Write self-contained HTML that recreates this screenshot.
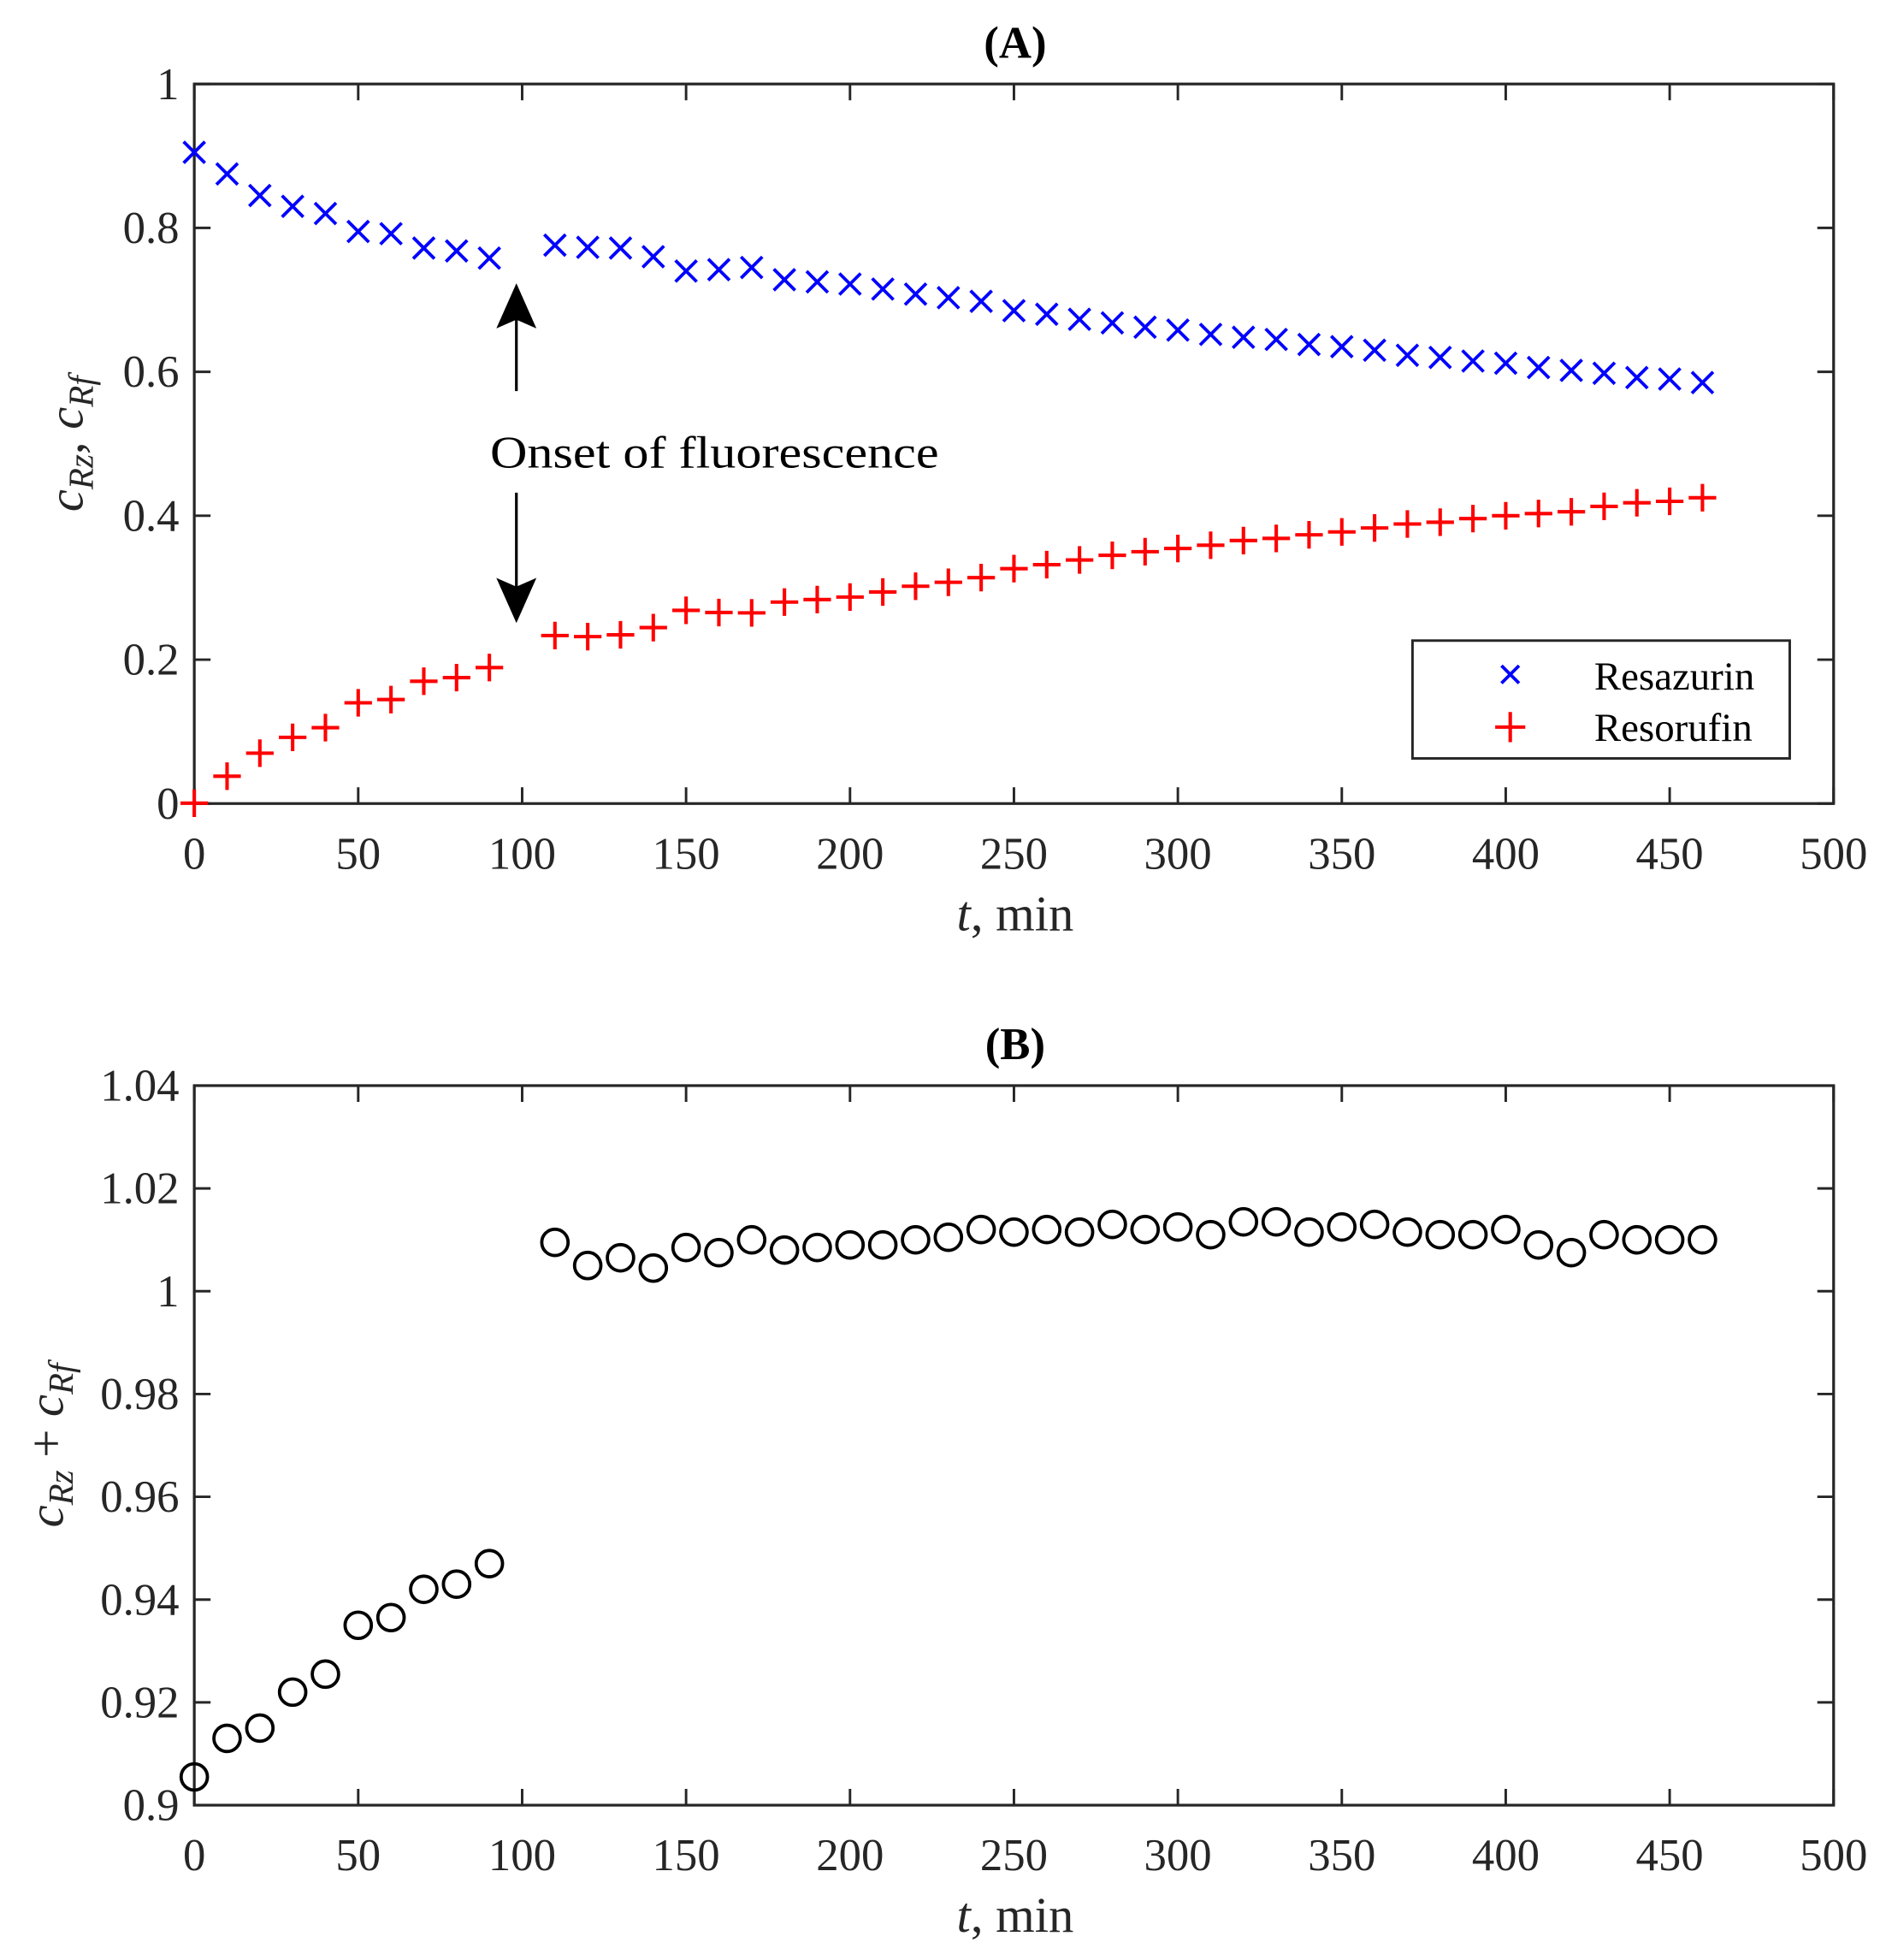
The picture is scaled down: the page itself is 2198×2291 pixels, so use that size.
<!DOCTYPE html>
<html><head><meta charset="utf-8"><style>html,body{margin:0;padding:0;background:#fff}svg{display:block}svg text{font-family:"Liberation Serif","Times New Roman",serif}</style></head>
<body>
<svg id="s" width="2198" height="2291" viewBox="0 0 1500 1563.5" xmlns="http://www.w3.org/2000/svg" style="font-family:'Liberation Serif',serif">
<rect width="1500" height="1563.5" fill="#fff"/>
<g id="g"></g>
</svg>
<script>
var g=document.getElementById('g'),h='';
var L=155,R=1463;
function X(t){return L+(R-L)*t/500;}
var ts=[0,10,20,30,40,50,60,70,80,90,110,120,130,140,150,160,170,180,190,200,210,220,230,240,250,260,270,280,290,300,310,320,330,340,350,360,370,380,390,400,410,420,430,440,450,460];
var rz=[0.905,0.875,0.845,0.830,0.820,0.795,0.792,0.772,0.768,0.758,0.776,0.773,0.772,0.760,0.740,0.742,0.745,0.728,0.725,0.722,0.715,0.708,0.703,0.698,0.685,0.680,0.673,0.668,0.662,0.658,0.652,0.648,0.645,0.638,0.635,0.630,0.623,0.620,0.615,0.612,0.606,0.602,0.598,0.592,0.590,0.585];
var sm=[0.9055,0.913,0.915,0.922,0.9255,0.935,0.9365,0.942,0.943,0.947,1.0095,1.005,1.0065,1.0045,1.0085,1.0075,1.010,1.008,1.0085,1.009,1.009,1.010,1.0105,1.012,1.0115,1.012,1.0115,1.013,1.012,1.0125,1.011,1.0135,1.0135,1.0115,1.0125,1.013,1.0115,1.011,1.011,1.012,1.009,1.0075,1.011,1.010,1.010,1.010];
function axes(top,bot,yt,ylab,ymin,ymax){
  var s='<rect x="'+L+'" y="'+top+'" width="'+(R-L)+'" height="'+(bot-top)+'" fill="none" stroke="#262626" stroke-width="2.2"/>';
  for(var t=0;t<=500;t+=50){var x=X(t);
    s+='<line x1="'+x+'" y1="'+bot+'" x2="'+x+'" y2="'+(bot-13)+'" stroke="#262626" stroke-width="2"/>';
    s+='<line x1="'+x+'" y1="'+top+'" x2="'+x+'" y2="'+(top+13)+'" stroke="#262626" stroke-width="2"/>';
    s+='<text x="'+x+'" y="'+(bot+52)+'" font-size="36" text-anchor="middle" fill="#262626">'+t+'</text>';}
  for(var i=0;i<yt.length;i++){var v=yt[i];var y=bot-(bot-top)*(v-ymin)/(ymax-ymin);
    s+='<line x1="'+L+'" y1="'+y+'" x2="'+(L+13)+'" y2="'+y+'" stroke="#262626" stroke-width="2"/>';
    s+='<line x1="'+R+'" y1="'+y+'" x2="'+(R-13)+'" y2="'+y+'" stroke="#262626" stroke-width="2"/>';
    s+='<text x="'+(L-12)+'" y="'+(y+12)+'" font-size="36" text-anchor="end" fill="#262626">'+ylab[i]+'</text>';}
  return s;}
var tA=67,bA=641;
function YA(v){return bA-(bA-tA)*v;}
h+=axes(tA,bA,[0,0.2,0.4,0.6,0.8,1],['0','0.2','0.4','0.6','0.8','1'],0,1);
h+='<text x="810" y="46" font-size="36" font-weight="bold" text-anchor="middle">(A)</text>';
h+='<text x="810" y="742" font-size="40" text-anchor="middle" fill="#262626"><tspan font-style="italic">t</tspan>,  min</text>';
h+='<text transform="translate(66,354) rotate(-90)" font-size="40" text-anchor="middle" fill="#262626"><tspan font-style="italic">c</tspan><tspan font-style="italic" font-size="28" dy="8">Rz</tspan><tspan dy="-8">,  </tspan><tspan font-style="italic">c</tspan><tspan font-style="italic" font-size="28" dy="8">Rf</tspan></text>';
for(var i=0;i<ts.length;i++){
  var x=X(ts[i]),y=YA(rz[i]),d=8.5;
  h+='<path d="M'+(x-d)+' '+(y-d)+'L'+(x+d)+' '+(y+d)+'M'+(x-d)+' '+(y+d)+'L'+(x+d)+' '+(y-d)+'" stroke="#0000ff" stroke-width="2.6"/>';
  var f=Math.max(0,sm[i]-rz[i]);y=YA(f);var e=11;
  h+='<path d="M'+(x-e)+' '+y+'L'+(x+e)+' '+y+'M'+x+' '+(y-e)+'L'+x+' '+(y+e)+'" stroke="#ff0000" stroke-width="2.8"/>';
}
h+='<line x1="412" y1="312" x2="412" y2="250" stroke="#000" stroke-width="2.2"/>';
h+='<path d="M412 226 L428 262 L412 255 L396 262 Z" fill="#000"/>';
h+='<line x1="412" y1="393" x2="412" y2="470" stroke="#000" stroke-width="2.2"/>';
h+='<path d="M412 497 L428 461 L412 468 L396 461 Z" fill="#000"/>';
h+='<text x="391" y="373" font-size="36" textLength="358" lengthAdjust="spacingAndGlyphs">Onset of fluorescence</text>';
h+='<rect x="1127" y="511" width="301" height="94" fill="#fff" stroke="#262626" stroke-width="2"/>';
h+='<path d="M1198 531L1212 545M1198 545L1212 531" stroke="#0000ff" stroke-width="2.6"/>';
h+='<path d="M1193 580L1217 580M1205 568L1205 592" stroke="#ff0000" stroke-width="2.8"/>';
h+='<text x="1272" y="550" font-size="32">Resazurin</text>';
h+='<text x="1272" y="591" font-size="32">Resorufin</text>';
var tB=866,bB=1440;
function YB(v){return bB-(bB-tB)*(v-0.9)/0.14;}
h+=axes(tB,bB,[0.9,0.92,0.94,0.96,0.98,1,1.02,1.04],['0.9','0.92','0.94','0.96','0.98','1','1.02','1.04'],0.9,1.04);
h+='<text x="810" y="845" font-size="36" font-weight="bold" text-anchor="middle">(B)</text>';
h+='<text x="810" y="1541" font-size="40" text-anchor="middle" fill="#262626"><tspan font-style="italic">t</tspan>,  min</text>';
h+='<text transform="translate(50,1153) rotate(-90)" font-size="40" text-anchor="middle" fill="#262626"><tspan font-style="italic">c</tspan><tspan font-style="italic" font-size="28" dy="8">Rz</tspan><tspan dy="-8"> + </tspan><tspan font-style="italic">c</tspan><tspan font-style="italic" font-size="28" dy="8">Rf</tspan></text>';
for(var i=0;i<ts.length;i++){
  h+='<circle cx="'+X(ts[i])+'" cy="'+YB(sm[i])+'" r="10.5" fill="none" stroke="#000" stroke-width="2.6"/>';
}
g.innerHTML=h;
</script>
</body></html>
